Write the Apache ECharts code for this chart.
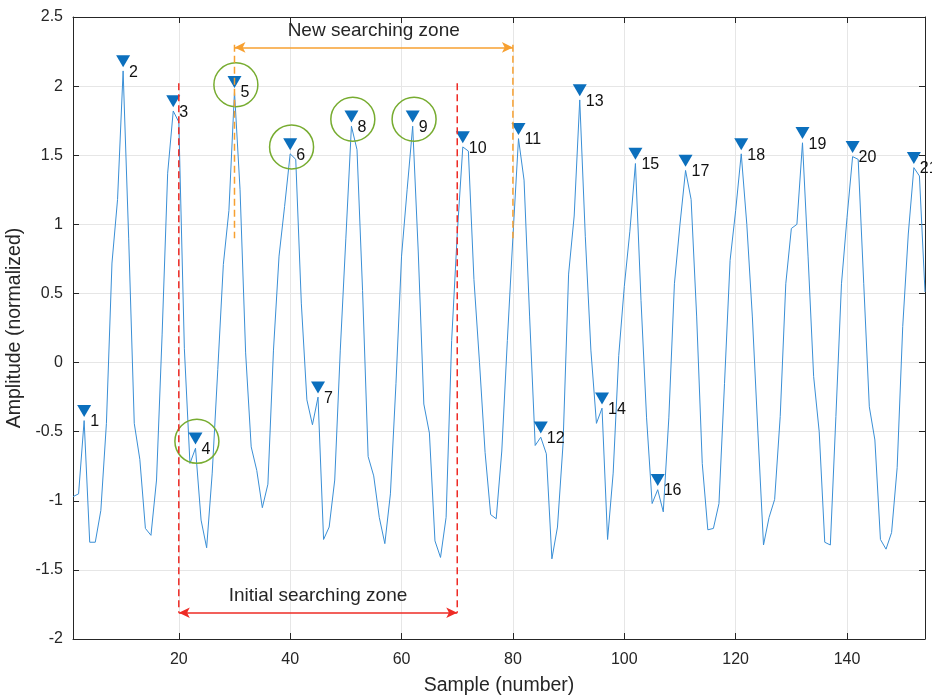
<!DOCTYPE html>
<html>
<head>
<meta charset="utf-8">
<title>Peak search zones</title>
<script src="https://cdn.jsdelivr.net/npm/echarts@6/dist/echarts.min.js"></script>
<style>
  html, body { margin: 0; padding: 0; background: #fff; }
  #chart { width: 932px; height: 696px; }
</style>
</head>
<body>
<div id="chart"></div>
<script>
// normalized amplitude, one value per sample (samples 1..154)
var amplitude = [
  -0.97, -0.95, -0.42, -1.30, -1.30, -1.07, -0.44, 0.72, 1.18, 2.11,
  0.90, -0.44, -0.70, -1.20, -1.25, -0.85, 0.20, 1.37, 1.82, 1.74,
  0.10, -0.73, -0.62, -1.14, -1.34, -0.80, -0.05, 0.71, 1.10, 1.96,
  1.25, 0.07, -0.61, -0.78, -1.05, -0.88, 0.09, 0.77, 1.13, 1.51,
  1.47, 0.43, -0.27, -0.45, -0.25, -1.28, -1.19, -0.85, 0.09, 0.90,
  1.71, 1.54, 0.52, -0.68, -0.82, -1.12, -1.31, -0.95, -0.15, 0.77,
  1.25, 1.71, 0.80, -0.30, -0.51, -1.29, -1.41, -1.12, 0.16, 0.93,
  1.56, 1.53, 0.60, 0.00, -0.65, -1.10, -1.13, -0.64, 0.16, 0.91,
  1.62, 1.32, 0.33, -0.60, -0.54, -0.66, -1.42, -1.19, -0.59, 0.64,
  1.06, 1.90, 0.91, 0.09, -0.44, -0.33, -1.28, -0.80, 0.05, 0.55,
  0.95, 1.44, 0.45, -0.40, -1.02, -0.92, -1.08, -0.40, 0.57, 1.00,
  1.39, 1.18, 0.33, -0.73, -1.21, -1.20, -1.02, -0.15, 0.74, 1.10,
  1.51, 1.00, 0.33, -0.51, -1.32, -1.12, -0.99, -0.39, 0.57, 0.97,
  1.00, 1.59, 0.77, -0.10, -0.50, -1.30, -1.32, -0.39, 0.57, 1.05,
  1.49, 1.47, 0.57, -0.32, -0.56, -1.28, -1.35, -1.23, -0.76, 0.26,
  0.93, 1.41, 1.35, 0.51
];
// sample number of each detected peak, labelled 1..21
var peakSamples = [3, 10, 19, 23, 30, 40, 45, 51, 62, 71, 81, 85, 92, 96, 102, 106, 111, 121, 132, 141, 152];
// peak labels that are circled in green
var circledPeaks = [4, 5, 6, 8, 9];

// searching zones: [from, to] sample, vertical extent, arrow level, caption level
var initialZone = [20, 70];
var initialZoneSpan = [-1.81, 2.02];
var initialArrowY = -1.81;
var initialCaptionY = -1.69;
var newZone = [30, 80];
var newZoneSpan = [0.9, 2.30];
var newArrowY = 2.28;
var newCaptionY = 2.40;

var xTicks = [20, 40, 60, 80, 100, 120, 140];

var font = 'Liberation Sans, Arial, Helvetica, sans-serif';
var axisColor = '#262626';
var gridColor = '#e6e6e6';
var lineColor = '#3a8fd6';
var markerColor = '#0b6fbd';
var red = '#ee2b25';
var orange = '#f7a030';
var green = '#77ac30';
var markerLift = 0.07;

var chart = echarts.init(document.getElementById('chart'));

function zoneSeries(zone, span, arrowY, color) {
  return zone.map(function (x, i) {
    var s = {
      type: 'line',
      data: [[x, span[1]], [x, span[0]]],
      symbol: 'none',
      lineStyle: { color: color, width: 1.5, type: [7, 4] },
      z: 5
    };
    if (i === 0) {
      s.markLine = {
        silent: true,
        symbol: ['arrow', 'arrow'],
        symbolSize: [8, 11],
        label: { show: false },
        lineStyle: { color: color, width: 1.5, type: 'solid' },
        data: [[{ coord: [zone[0], arrowY] }, { coord: [zone[1], arrowY] }]]
      };
    }
    return s;
  });
}

function caption(text, x, y) {
  return {
    type: 'scatter',
    symbolSize: 1,
    itemStyle: { color: 'rgba(0,0,0,0)', opacity: 1 },
    label: {
      show: true,
      position: 'inside',
      formatter: '{b}',
      fontSize: 19,
      fontFamily: font,
      color: '#262626'
    },
    data: [{ name: text, value: [x, y] }],
    z: 6
  };
}

var peakData = peakSamples.map(function (s, k) {
  return { name: String(k + 1), value: [s, amplitude[s - 1] + markerLift] };
});
var circleData = circledPeaks.map(function (p) {
  var s = peakSamples[p - 1];
  return [s + 0.25, amplitude[s - 1] + markerLift - 0.02];
});

var option = {
  animation: false,
  backgroundColor: '#fff',
  grid: { left: 73, right: 7, top: 17, bottom: 57, outerBoundsMode: 'none', containLabel: false },
  xAxis: [
    {
      type: 'value',
      min: 1,
      max: 154,
      position: 'bottom',
      name: 'Sample (number)',
      nameLocation: 'middle',
      nameGap: 37,
      nameTextStyle: { fontSize: 19.5, color: axisColor, fontFamily: font },
      axisLine: { show: true, onZero: false, lineStyle: { color: axisColor } },
      axisTick: { show: true, inside: true, length: 6, customValues: xTicks, lineStyle: { color: axisColor } },
      axisLabel: { customValues: xTicks, fontSize: 16, color: axisColor, margin: 13, fontFamily: font },
      splitLine: { show: true, lineStyle: { color: gridColor } }
    },
    {
      type: 'value',
      min: 1,
      max: 154,
      position: 'top',
      axisLine: { show: true, onZero: false, lineStyle: { color: axisColor } },
      axisTick: { show: true, inside: true, length: 6, customValues: xTicks, lineStyle: { color: axisColor } },
      axisLabel: { show: false, customValues: xTicks },
      splitLine: { show: false }
    }
  ],
  yAxis: [
    {
      type: 'value',
      min: -2,
      max: 2.5,
      interval: 0.5,
      name: 'Amplitude (normalized)',
      nameLocation: 'middle',
      nameGap: 38,
      nameTextStyle: { fontSize: 19.5, color: axisColor, fontFamily: font },
      axisLine: { show: true, onZero: false, lineStyle: { color: axisColor } },
      axisTick: { show: true, inside: true, length: 6, lineStyle: { color: axisColor } },
      axisLabel: { fontSize: 16, color: axisColor, margin: 10, fontFamily: font },
      splitLine: { show: true, lineStyle: { color: gridColor } }
    },
    {
      type: 'value',
      min: -2,
      max: 2.5,
      interval: 0.5,
      position: 'right',
      axisLine: { show: true, onZero: false, lineStyle: { color: axisColor } },
      axisTick: { show: true, inside: true, length: 6, lineStyle: { color: axisColor } },
      axisLabel: { show: false },
      splitLine: { show: false }
    }
  ],
  series: [
    {
      name: 'signal',
      type: 'line',
      data: amplitude.map(function (v, i) { return [i + 1, v]; }),
      symbol: 'none',
      lineStyle: { color: lineColor, width: 1 },
      z: 2
    },
    {
      name: 'peaks',
      type: 'scatter',
      data: peakData,
      symbol: 'path://M0,0 L10,0 L5,8.6 Z',
      symbolSize: [14, 12],
      itemStyle: { color: markerColor, opacity: 1 },
      label: {
        show: true,
        formatter: '{b}',
        position: [13, 17],
        align: 'left',
        verticalAlign: 'middle',
        fontSize: 16,
        fontFamily: font,
        color: '#111'
      },
      z: 4
    },
    {
      name: 'circled',
      type: 'scatter',
      data: circleData,
      symbol: 'circle',
      symbolSize: 44,
      itemStyle: { color: 'rgba(0,0,0,0)', borderColor: green, borderWidth: 1.5, opacity: 1 },
      z: 3
    }
  ]
    .concat(zoneSeries(initialZone, initialZoneSpan, initialArrowY, red))
    .concat(zoneSeries(newZone, newZoneSpan, newArrowY, orange))
    .concat([
      caption('Initial searching zone', (initialZone[0] + initialZone[1]) / 2, initialCaptionY),
      caption('New searching zone', (newZone[0] + newZone[1]) / 2, newCaptionY)
    ])
};

chart.setOption(option);
</script>
</body>
</html>
